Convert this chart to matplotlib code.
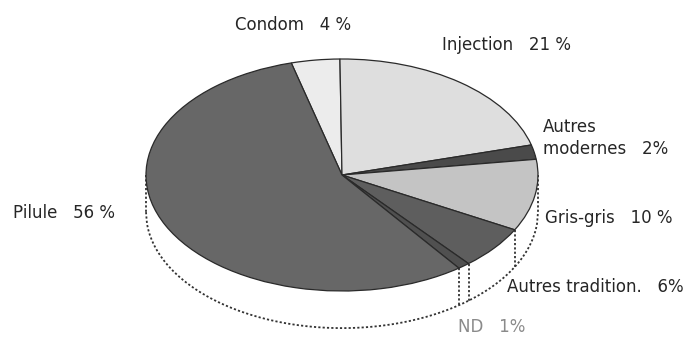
import numpy as np
import matplotlib.pyplot as plt

# contraception methods, clockwise from the top of the pie
methods = ['Condom', 'Injection', 'Autres\nmodernes', 'Gris-gris',
           'Autres tradition.', 'ND', 'Pilule']
shares = [4, 21, 2, 10, 6, 1, 56]
pct_sep = [' %', ' %', '%', ' %', '%', '%', ' %']

colors = ['#ececec', '#dedede', '#4a4a4a', '#c4c4c4', '#5e5e5e', '#505050', '#676767']
text_colors = ['#262626'] * 5 + ['#8a8a8a', '#262626']

# label anchors in pixels from the top-left corner (left edge, vertical centre)
label_px = [(235, 25), (442, 45), (543, 138), (545, 218), (507, 287), (458, 327), (13, 213)]

W, H = 699, 337
start = 105
depth = 0.32

fig = plt.figure(figsize=(W / 100, H / 100), dpi=100)
ax = fig.add_axes([0, 0, 1, 1])

# side of the disc: white band with dotted rim
rim = dict(color='#333333', lw=1.3, ls=(0, (1.2, 1.2)), zorder=2)
x = np.linspace(-1, 1, 400)
ax.fill_between(x, -np.sqrt(1 - x**2) - depth, 0, color='white', zorder=1)
ax.plot(x, -np.sqrt(1 - x**2) - depth, **rim)
for xs in (-1, 1):
    ax.plot([xs, xs], [0, -depth], **rim)
edges = start - 360 * np.cumsum(shares) / 100.0
for a in np.radians(edges):
    if np.sin(a) < -0.05:
        cx, cy = np.cos(a), np.sin(a)
        ax.plot([cx, cx], [cy, cy - depth], **rim)

# top face
wedges, _ = ax.pie(shares, colors=colors, startangle=start, counterclock=False,
                   wedgeprops=dict(edgecolor='#2a2a2a', linewidth=0.9))
for w in wedges:
    w.set_zorder(3)

ax.set_aspect('auto')
ax.set_xlim(-342 / 196, (W - 342) / 196)
ax.set_ylim(-162 / 116, 175 / 116)
ax.axis('off')

for name, v, sep, tc, (px, py) in zip(methods, shares, pct_sep, text_colors, label_px):
    fig.text(px / W, 1 - py / H, f'{name}   {v}{sep}', ha='left', va='center',
             fontsize=12, color=tc, family='DejaVu Sans', linespacing=1.3)

fig.savefig('out.png', dpi=100, facecolor='white')
